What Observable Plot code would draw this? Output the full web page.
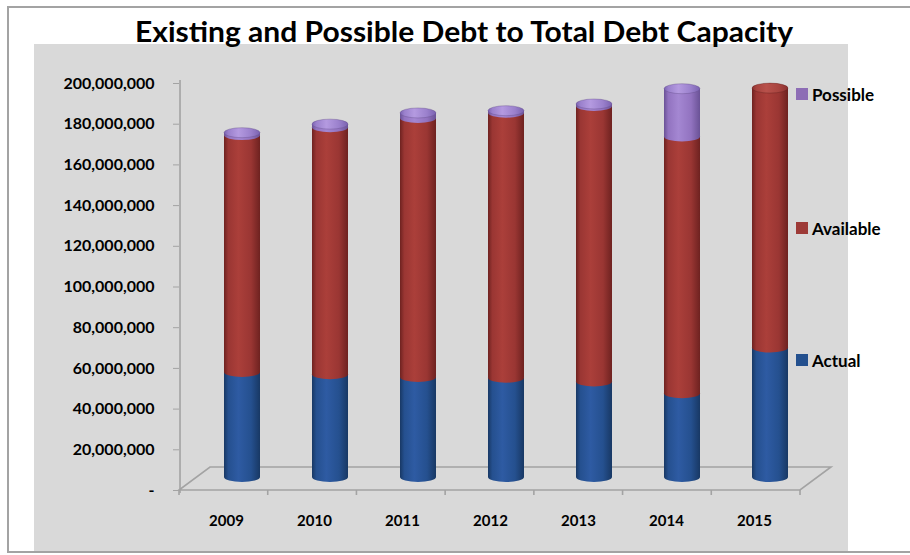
<!DOCTYPE html>
<html><head><meta charset="utf-8">
<script src="https://cdn.jsdelivr.net/npm/d3@7"></script>
<script src="https://cdn.jsdelivr.net/npm/@observablehq/plot@0.6"></script>
<style>
html,body{margin:0;padding:0;background:#fff;overflow:hidden;}
#wrap{position:relative;width:910px;height:555px;overflow:hidden;font-family:Lato,"Liberation Sans",sans-serif;}
#border{position:absolute;left:7px;top:6px;width:960px;height:543px;border:2px solid #a3a3a3;border-right:none;}
#grey{position:absolute;left:34px;top:44px;width:814px;height:507px;background:#d9d9d9;}
#title{position:absolute;left:135px;top:17px;width:2000px;font-weight:bold;font-size:28px;line-height:1;white-space:nowrap;color:#000;}
#titletext{display:inline-block;transform-origin:0 0;}
#chart{position:absolute;left:0;top:0;}
.leg{position:absolute;left:796px;display:flex;align-items:center;font-weight:bold;font-size:17px;color:#000;}
.leg i{display:inline-block;width:12px;height:12px;margin-right:4px;}
</style></head>
<body>
<div id="wrap">
  <div id="border"></div>
  <div id="grey"></div>
  <div id="chart"></div>
  <div id="title"><span id="titletext">Existing and Possible Debt to Total Debt Capacity</span></div>
  <div id="legend"></div>
</div>
<script>
const years = ["2009", "2010", "2011", "2012", "2013", "2014", "2015"];
const actual    = [51600000, 50500000, 49200000, 48800000, 46900000, 41200000, 63600000];
const available = [116400000, 121400000, 127200000, 130200000, 135400000, 126100000, 127500000];
const possible  = [1200000, 1500000, 2500000, 1000000, 1000000, 23500000, 0];
const yTicks = [0, 20000000, 40000000, 60000000, 80000000, 100000000, 120000000, 140000000, 160000000, 180000000, 200000000];
const legendNames = ["Possible", "Available", "Actual"];
const legendColors = ["#8d6db5", "#9d3a37", "#24508e"];
const legendTops = [88, 222, 354];

const rows = years.map((year, i) => ({
  year,
  a1: actual[i],
  b1: actual[i] + available[i],
  c1: actual[i] + available[i] + possible[i],
  possible: possible[i]
}));

const DX = 16, DY = -13, INS = 26;

const defs = () => {
  const g = d3.create("svg:g");
  const d = g.append("defs");
  const grad = (id, edge, light, mid) => {
    const lg = d.append("linearGradient").attr("id", id)
      .attr("x1", "0").attr("x2", "1").attr("y1", "0").attr("y2", "0");
    lg.append("stop").attr("offset", "0%").attr("stop-color", edge);
    lg.append("stop").attr("offset", "12%").attr("stop-color", mid);
    lg.append("stop").attr("offset", "40%").attr("stop-color", light);
    lg.append("stop").attr("offset", "75%").attr("stop-color", mid);
    lg.append("stop").attr("offset", "100%").attr("stop-color", edge);
  };
  grad("gBlue", "#183864", "#2e5ba3", "#25508f");
  grad("gRed", "#6e2220", "#ab3f3a", "#9a3633");
  grad("gPurple", "#6a5296", "#a487d2", "#9273c0");
  grad("gCapP", "#7a62b0", "#b49ae0", "#9a80cc");
  grad("gCapR", "#8a3030", "#b8514b", "#a8443f");
  return g.node();
};

const floor = (index, scales, values, dim) => {
  const x0 = dim.marginLeft, x1 = dim.width - dim.marginRight;
  const y0 = (scales && typeof scales.y === "function") ? scales.y(0) : dim.height - dim.marginBottom;
  const yTop = (scales && typeof scales.y === "function") ? scales.y(yTicks[yTicks.length - 1]) : dim.marginTop;
  const step = (x1 - x0) / years.length;
  const g = d3.create("svg:g").attr("fill", "none").attr("stroke", "#a3a3a3").attr("stroke-width", 1.6);
  const ox = 31, oy = -23;
  g.append("path").attr("d",
    `M${x0},${y0}L${x1},${y0}L${x1 + ox},${y0 + oy}L${x0 + ox},${y0 + oy}Z`);
  g.append("line").attr("x1", x0 + 1).attr("x2", x0 + 1).attr("y1", yTop - 3).attr("y2", y0 + 3);
  for (let k = 0; k <= years.length; k++) {
    g.append("line").attr("x1", x0 + k * step).attr("x2", x0 + k * step).attr("y1", y0).attr("y2", y0 + 5);
  }
  return g.node();
};

const seg = (y1, y2, fill, filter) => Plot.barY(rows, {
  x: "year", y1, y2, fill, filter, insetLeft: INS, insetRight: INS, dx: DX, dy: DY
});
const ell = (yk, fill, filter, extra = {}) => Plot.barY(rows, {
  x: "year", y1: yk, y2: yk, fill, filter,
  insetLeft: INS, insetRight: INS, insetTop: -5, insetBottom: -5,
  rx: 19, ry: 5, dx: DX, dy: DY, ...extra
});

const chart = Plot.plot({
  width: 910,
  height: 555,
  marginLeft: 179,
  marginRight: 110,
  marginTop: 83,
  marginBottom: 65,
  style: {background: "transparent", fontFamily: "Lato, 'Liberation Sans', sans-serif", fontWeight: "bold", color: "#000", overflow: "visible"},
  x: {type: "band", domain: years, padding: 0, label: null},
  y: {domain: [0, 200000000], label: null},
  marks: [
    defs,
    floor,
    Plot.axisY({ticks: yTicks, tickSize: 6, tickPadding: 19, fontSize: 16, stroke: "#a3a3a3",
      tickFormat: d => d === 0 ? "-" : d3.format(",")(d), label: null}),
    Plot.axisX({tickSize: 0, tickPadding: 25, fontSize: 15, label: null}),
    seg(d => 0, "a1", "url(#gBlue)"),
    ell(d => 0, "url(#gBlue)"),
    seg("a1", "b1", "url(#gRed)"),
    ell("a1", "url(#gRed)"),
    seg("b1", "c1", "url(#gPurple)", d => d.possible > 0),
    ell("b1", "url(#gPurple)", d => d.possible > 0),
    ell("c1", "url(#gCapP)", d => d.possible > 0, {stroke: "#5e4a85", strokeWidth: 0.6, strokeOpacity: 0.6}),
    ell("c1", "url(#gCapR)", d => !(d.possible > 0), {stroke: "#5a1c1a", strokeWidth: 0.6, strokeOpacity: 0.6})
  ]
});
document.getElementById("chart").appendChild(chart);

// legend
const leg = document.getElementById("legend");
legendNames.forEach((name, i) => {
  const el = document.createElement("div");
  el.className = "leg";
  el.style.top = (legendTops[i] - 5) + "px";
  el.style.height = "22px";
  el.innerHTML = `<i style="background:${legendColors[i]}"></i><span>${name}</span>`;
  leg.appendChild(el);
});

// fit title to the reference span (x 135..793)
function fitTitle() {
  const tt = document.getElementById("titletext");
  tt.style.transform = "none";
  const w = tt.getBoundingClientRect().width;
  const sx = 658 / w;
  tt.style.transform = `scaleX(${sx.toFixed(4)})`;
}
fitTitle();
if (document.fonts && document.fonts.ready) document.fonts.ready.then(fitTitle);
</script>
</body></html>
